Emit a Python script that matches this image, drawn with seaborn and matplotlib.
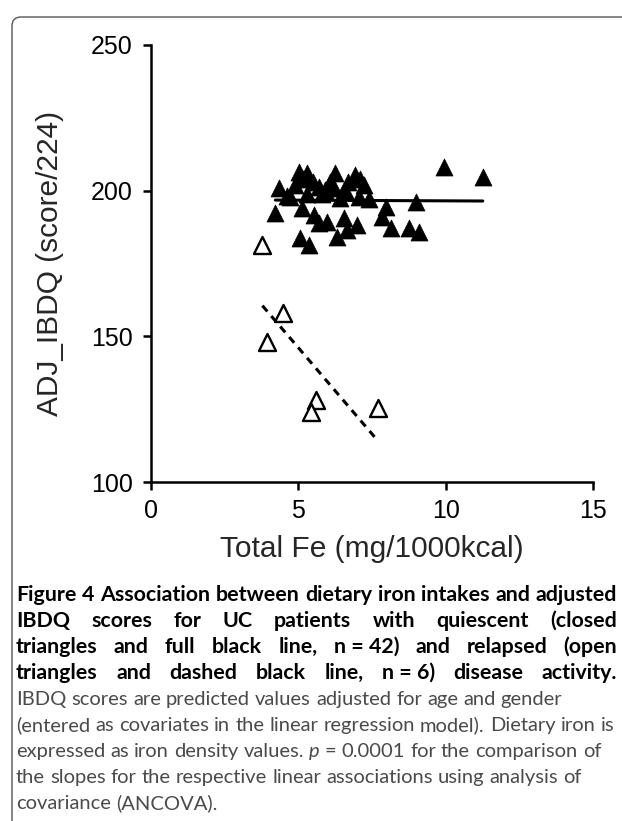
import pandas as pd
import matplotlib
matplotlib.use("Agg")
import matplotlib.pyplot as plt
import seaborn as sns
from matplotlib.patches import FancyBboxPatch

# Quiescent UC patients (closed triangles, n = 42)
fe_quiescent = [4.33, 4.22, 5.01, 5.30, 4.90, 4.73, 5.13, 5.52, 5.69, 5.07,
                5.35, 5.69, 6.09, 6.26, 5.98, 6.94, 7.22, 6.60, 6.43, 7.05,
                5.92, 7.96, 7.85, 8.98, 8.13, 8.75, 9.09, 7.00, 6.54, 6.32,
                6.66, 9.93, 11.26, 5.15, 5.50, 5.80, 6.20, 6.70, 7.10, 4.60,
                5.30, 7.40]
ibdq_quiescent = [200.8, 192.2, 206.5, 206.0, 202.0, 197.9, 194.0, 191.7, 188.8, 183.7,
                  181.4, 201.4, 203.1, 206.0, 189.4, 205.4, 202.0, 200.2, 197.4, 197.9,
                  200.2, 194.5, 191.1, 196.2, 187.1, 187.1, 185.9, 188.2, 190.5, 184.2,
                  186.5, 208.1, 204.7, 204.0, 203.0, 199.0, 201.0, 203.0, 204.0, 198.0,
                  199.0, 197.0]

# Relapsed UC patients (open triangles, n = 6)
fe_relapsed = [3.78, 4.49, 3.95, 5.60, 5.44, 7.72]
ibdq_relapsed = [181.5, 158.0, 148.0, 128.0, 124.0, 125.5]

x_ticks = [0, 5, 10, 15]
y_ticks = [100, 150, 200, 250]
x_label = "Total Fe (mg/1000kcal)"
y_label = "ADJ_IBDQ (score/224)"

# caption lines ('~' = space inside a token, '_' = italic token)
bold_lines = [
    "Figure 4 Association between dietary iron intakes and adjusted",
    "IBDQ scores for UC patients with quiescent (closed",
    "triangles and full black line, n~=~42) and relapsed (open",
    "triangles and dashed black line, n~=~6) disease activity.",
]
plain_lines = [
    "IBDQ scores are predicted values adjusted for age and gender",
    "(entered as covariates in the linear regression model). Dietary iron is",
    "expressed as iron density values. _p = 0.0001 for the comparison of",
    "the slopes for the respective linear associations using analysis of",
    "covariance (ANCOVA).",
]

W, H = 622, 821

sns.set_theme(style="ticks")
plt.rcParams['font.family'] = ['Liberation Sans', 'DejaVu Sans']

fig = plt.figure(figsize=(W / 100, H / 100), dpi=100)
ax = fig.add_axes([151 / W, 1 - 482 / H, (593 - 151) / W, (482 - 45) / H])

df_q = pd.DataFrame({'fe': fe_quiescent, 'ibdq': ibdq_quiescent})
df_r = pd.DataFrame({'fe': fe_relapsed, 'ibdq': ibdq_relapsed})

sns.scatterplot(data=df_q, x='fe', y='ibdq', marker='^', s=150, color='black',
                edgecolor='black', linewidth=0.5, ax=ax, zorder=3)
sns.scatterplot(data=df_r, x='fe', y='ibdq', marker='^', s=150, color='white',
                edgecolor='black', linewidth=1.7, ax=ax, zorder=3)
sns.regplot(data=df_q, x='fe', y='ibdq', scatter=False, ci=None, color='black',
            line_kws={'lw': 2.2}, ax=ax)
sns.regplot(data=df_r, x='fe', y='ibdq', scatter=False, ci=None, color='black',
            line_kws={'lw': 2.2, 'ls': (0, (2.5, 2))}, ax=ax)

ax.set_xlim(0, 15)
ax.set_ylim(100, 250)
ax.set_xticks(x_ticks)
ax.set_yticks(y_ticks)
ax.tick_params(labelsize=18, width=1.8, length=6, color='black', labelcolor='black')
ax.tick_params(axis='y', pad=7)
ax.tick_params(axis='x', pad=6)
for side in ['top', 'right']:
    ax.spines[side].set_visible(False)
for side in ['left', 'bottom']:
    ax.spines[side].set_linewidth(1.8)
    ax.spines[side].set_color('black')
ax.set_xlabel(x_label, fontsize=21.5)
ax.set_ylabel(y_label, fontsize=21.5)
ax.xaxis.set_label_coords(0.5, (482 - 535) / 437)
ax.yaxis.set_label_coords((64 - 151) / 442, 0.5)

# caption frame: only the top and left edges show
frame = FancyBboxPatch((0.12, -1.0), 8.0, H / 100 - 0.17 + 1.0,
                       boxstyle="round,pad=0,rounding_size=0.09",
                       transform=fig.dpi_scale_trans, fill=False,
                       ec='#555555', lw=1.0)
fig.add_artist(frame)

# caption text
cap_font = ['Lato', 'DejaVu Sans']
renderer = fig.canvas.get_renderer()
X0, X1 = 16, 617


def make_words(line, size, weight, color):
    arts = []
    for w in line.split(' '):
        style = 'normal'
        if w.startswith('_'):
            w, style = w[1:], 'italic'
        arts.append(fig.text(0, 0, w.replace('~', ' '), fontsize=size, fontweight=weight,
                             fontstyle=style, color=color, family=cap_font, va='baseline'))
    return arts


def natural_width(line, size, weight):
    arts = make_words(line, size, weight, 'k')
    sp = fig.text(0, 0, 'x x', fontsize=size, fontweight=weight, family=cap_font)
    xx = fig.text(0, 0, 'xx', fontsize=size, fontweight=weight, family=cap_font)
    space = sp.get_window_extent(renderer).width - xx.get_window_extent(renderer).width
    total = sum(a.get_window_extent(renderer).width for a in arts) + space * (len(arts) - 1)
    for a in arts + [sp, xx]:
        a.remove()
    return total, space


def put_line(line, y_px, size, weight, color, justify):
    arts = make_words(line, size, weight, color)
    widths = [a.get_window_extent(renderer).width for a in arts]
    _, space = natural_width(line, size, weight)
    gap = (X1 - X0 - sum(widths)) / (len(arts) - 1) if justify else space
    x = X0
    for a, w in zip(arts, widths):
        a.set_position((x / W, 1 - y_px / H))
        x += w + gap


nb, _ = natural_width(bold_lines[0], 10, 'bold')
bold_size = 10 * (X1 - X0) / nb
npl, _ = natural_width(plain_lines[1], 10, 'normal')
plain_size = 10 * (X1 - X0 - 2) / npl

y = 601
for line in bold_lines:
    put_line(line, y, bold_size, 'bold', 'black', True)
    y += 26
for line in plain_lines:
    put_line(line, y, plain_size, 'normal', '#4a4a4a', False)
    y += 26

fig.savefig('out.png', dpi=100)
